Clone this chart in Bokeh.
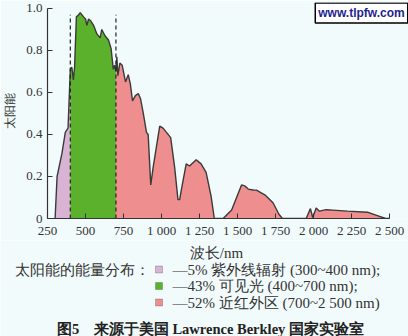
import numpy as np
from bokeh.plotting import figure
from bokeh.layouts import column
from bokeh.models import Range1d, FixedTicker, Label, BoxAnnotation
from bokeh.embed import file_html
from bokeh.resources import INLINE

# ---- data ----
wavelength_nm = [300, 313, 345, 367, 385, 400, 410, 420, 428, 440, 455, 465, 476, 487, 500,
                 509, 520, 535, 553, 574, 596, 607, 628, 651, 668, 677, 683, 692, 700,
                 706, 713, 726, 741, 763, 781, 795, 809, 828, 847, 862, 880, 901, 912,
                 929, 945, 988, 1010, 1060, 1086, 1108, 1119, 1130, 1162, 1184, 1228,
                 1260, 1293, 1326, 1347, 1405, 1461, 1526, 1548, 1570, 1603, 1624, 1679,
                 1733, 1772, 1795, 1951, 1979, 1994, 2017, 2038, 2082, 2125, 2223, 2354,
                 2419, 2474, 2500]
irradiance = [0.00, 0.20, 0.31, 0.41, 0.43, 0.71, 0.72, 0.66, 0.72, 0.96, 0.97, 0.98, 0.97,
              0.96, 0.95, 0.92, 0.95, 0.94, 0.92, 0.88, 0.86, 0.90, 0.87, 0.85, 0.81, 0.75,
              0.71, 0.73, 0.70, 0.77, 0.68, 0.74, 0.73, 0.65, 0.685, 0.64, 0.56, 0.585,
              0.595, 0.57, 0.50, 0.41, 0.40, 0.16, 0.245, 0.44, 0.43, 0.385, 0.245, 0.09,
              0.09, 0.135, 0.26, 0.25, 0.28, 0.26, 0.22, 0.105, 0.00, 0.00, 0.04, 0.16,
              0.155, 0.14, 0.136, 0.135, 0.113, 0.075, 0.02, 0.00, 0.00, 0.047, 0.005,
              0.05, 0.035, 0.042, 0.04, 0.035, 0.03, 0.014, 0.00, 0.00]

band_edges_nm = [300, 400, 700, 2500]
divider_nm = [400, 700]
divider_top = 0.97
band_colors = ["#d8b3d3", "#5bb12b", "#ef8e8e"]
legend_labels = ["—5% 紫外线辐射 (300~400 nm);",
                 "—43% 可见光 (400~700 nm);",
                 "—52% 近红外区 (700~2 500 nm)"]
legend_title = "太阳能的能量分布："
x_title = "波长/nm"
y_title = "太阳能"
caption = "图5\u00a0\u00a0\u00a0\u00a0来源于美国 Lawrence Berkley 国家实验室"
watermark = "www.tlpfw.com"
x_ticks = [250, 500, 750, 1000, 1250, 1500, 1750, 2000, 2250, 2500]
x_tick_labels = ["250", "500", "750", "1 000", "1 250", "1 500", "1 750",
                 "2 000", "2 250", "2 500"]
y_ticks = [0, 0.2, 0.4, 0.6, 0.8, 1.0]
y_tick_labels = ["0", "0.2", "0.4", "0.6", "0.8", "1.0"]

BG = "#f2fbfb"
INK = "#333333"
SERIF = "Liberation Serif"

# ---------------- chart ----------------
p = figure(width=408, height=240, x_range=Range1d(250, 2624), y_range=Range1d(0, 1.0284),
           output_backend="svg", toolbar_location=None,
           min_border_left=45, min_border_right=0, min_border_top=2, min_border_bottom=21,
           background_fill_color=BG, border_fill_color=BG)
p.frame_align = False
p.outline_line_color = None
p.grid.visible = False

wl = np.array(wavelength_nm, dtype=float)
ir = np.array(irradiance, dtype=float)
for i, col in enumerate(band_colors):
    lo, hi = band_edges_nm[i], band_edges_nm[i + 1]
    m = (wl >= lo) & (wl <= hi)
    p.varea(x=wl[m], y1=np.zeros(m.sum()), y2=ir[m], fill_color=col)

p.line(wl, ir, line_color="#3a3a3a", line_width=1.4)
p.segment(x0=divider_nm, y0=[0] * len(divider_nm), x1=divider_nm,
          y1=[divider_top] * len(divider_nm), line_color="#222222",
          line_width=1.2, line_dash="4 3")

for ax in (p.xaxis[0], p.yaxis[0]):
    ax.major_tick_in = 5
    ax.major_tick_out = 0
    ax.minor_tick_line_color = None
    ax.axis_line_color = INK
    ax.axis_line_width = 1.2
    ax.major_tick_line_color = INK
    ax.major_label_text_font = SERIF
    ax.major_label_text_font_size = "13px"
    ax.major_label_text_color = INK
    ax.axis_label_text_font = SERIF
    ax.axis_label_text_font_style = "normal"
    ax.axis_label_text_color = INK

p.xaxis[0].bounds = (250, 2500)
p.xaxis[0].ticker = FixedTicker(ticks=x_ticks)
p.xaxis[0].major_label_overrides = {t: s for t, s in zip(x_ticks, x_tick_labels)}
p.xaxis[0].major_label_standoff = 4

p.yaxis[0].bounds = (0, 1.0)
p.yaxis[0].ticker = FixedTicker(ticks=y_ticks)
p.yaxis[0].major_label_overrides = {t: s for t, s in zip(y_ticks, y_tick_labels)}
p.yaxis[0].major_label_standoff = 5
p.yaxis[0].axis_label = y_title
p.yaxis[0].axis_label_text_font_size = "12px"
p.yaxis[0].axis_label_standoff = 6

p.add_layout(Label(x=314, y=205.5, x_units="screen", y_units="screen", text=watermark,
                   text_font="Liberation Sans", text_font_size="12px", text_font_style="bold",
                   text_color="#1f1f8f", text_align="center", text_baseline="middle",
                   background_fill_color="white", border_line_color="black",
                   border_line_width=1.5, padding=3))

# ---------------- legend / caption block ----------------
q = figure(width=408, height=96, x_range=Range1d(0, 408), y_range=Range1d(336, 240),
           output_backend="svg", toolbar_location=None,
           x_axis_location=None, y_axis_location=None, min_border=0,
           background_fill_color=BG, border_fill_color=BG)
q.frame_align = False
q.outline_line_color = None
q.grid.visible = False

q.add_layout(Label(x=216, y=252, text=x_title, text_font=SERIF, text_font_size="15px",
                   text_color=INK, text_align="center", text_baseline="middle"))
q.add_layout(Label(x=14, y=269.5, text=legend_title, text_font=SERIF, text_font_size="14.5px",
                   text_color=INK, text_baseline="middle"))
rows_y = [269, 285.5, 302]
for col, lab, yy in zip(band_colors, legend_labels, rows_y):
    q.add_layout(BoxAnnotation(left=155, right=162, top=yy - 3.5, bottom=yy + 3.5,
                               fill_color=col, fill_alpha=1.0,
                               line_color="#444444", line_width=1))
    q.add_layout(Label(x=172, y=yy, text=lab, text_font=SERIF, text_font_size="15px",
                       text_color=INK, text_baseline="middle"))

q.add_layout(Label(x=210, y=328, text=caption, text_font=SERIF, text_font_size="14.5px",
                   text_font_style="bold", text_color="#222222", text_align="center",
                   text_baseline="middle"))

layout = column(p, q, spacing=0)
open("out.html", "w").write(file_html(layout, INLINE))
